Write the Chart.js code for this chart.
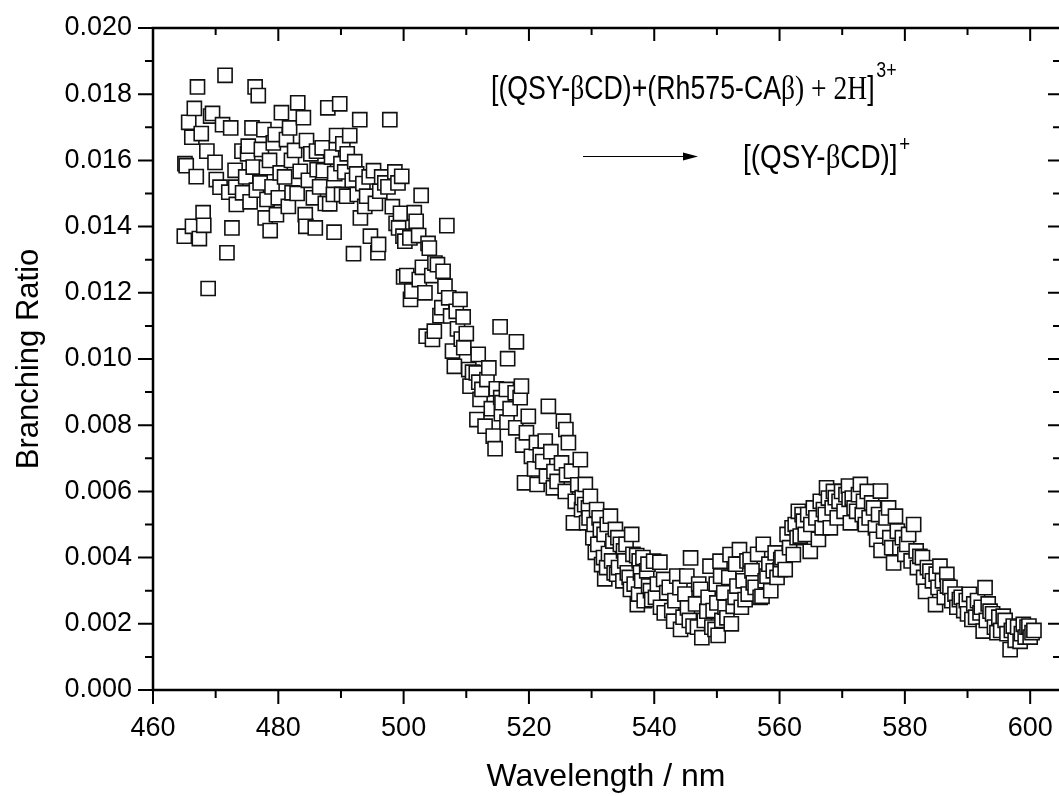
<!DOCTYPE html>
<html>
<head>
<meta charset="utf-8">
<script src="https://cdn.jsdelivr.net/npm/chart.js@4.4.1/dist/chart.umd.min.js"></script>
<style>
  html, body { margin: 0; padding: 0; background: #fff; }
</style>
</head>
<body>
<canvas id="grafico" width="1059" height="796"></canvas>
<script>
// valores
const wavelength = [
  465.0, 465.1, 465.3, 465.7, 466.2, 466.3, 466.6, 466.9, 467.1, 467.4,
  467.7, 468.0, 468.1, 468.6, 468.8, 469.2, 469.5, 469.9, 470.1, 470.7,
  471.1, 471.5, 471.8, 472.1, 472.4, 472.6, 473.1, 473.2, 473.3, 474.2,
  474.3, 474.8, 475.1, 475.2, 475.5, 475.8, 476.0, 476.3, 476.5, 476.8,
  477.1, 477.3, 477.7, 477.9, 478.1, 478.2, 478.6, 478.7, 479.0, 479.2,
  479.5, 479.7, 480.0, 480.3, 480.5, 481.0, 481.3, 481.6, 481.8, 482.1,
  482.2, 482.6, 483.0, 483.1, 483.5, 484.0, 484.3, 484.4, 484.5, 484.8,
  485.2, 485.6, 485.9, 486.1, 486.2, 486.6, 487.0, 487.2, 487.5, 487.9,
  488.2, 488.5, 488.8, 488.9, 489.0, 489.3, 489.8, 490.0, 490.1, 490.3,
  490.6, 490.9, 491.0, 491.4, 491.8, 492.0, 492.2, 492.5, 492.6, 493.0,
  493.1, 493.5, 493.8, 494.1, 494.5, 494.7, 495.2, 495.5, 495.9, 496.0,
  496.2, 496.5, 497.0, 497.5, 497.8, 498.2, 498.6, 498.8, 499.1, 499.2,
  499.5, 499.7, 499.9,
  500.0, 500.2, 500.5, 501.0, 501.1, 501.3, 501.7, 502.0, 502.4, 502.5,
  502.8, 503.0, 503.4, 503.6, 503.9, 504.1, 504.5, 504.6, 504.9, 505.0,
  505.4, 505.8, 506.1, 506.3, 506.6, 506.9, 507.2, 507.5, 507.8, 508.1,
  508.4, 508.6, 509.0, 509.2, 509.5, 509.6, 510.0, 510.4, 510.6, 511.0,
  511.6, 511.7, 511.9, 512.0, 512.2, 512.5, 513.0, 513.3, 513.6, 514.0,
  514.3, 514.6, 514.8, 515.4, 515.5, 515.6, 515.7, 516.4, 516.5, 516.6,
  517.0, 517.8, 517.9, 518.0, 518.6, 518.8, 519.0, 519.3, 519.6, 519.9,
  520.4, 520.9, 521.2, 521.3, 521.8, 522.2, 522.6, 522.8, 523.1, 523.5,
  523.9, 524.0, 524.5, 525.2, 525.5, 525.8, 525.9, 526.0, 526.3, 526.8,
  527.1, 527.4, 527.8, 528.2, 528.4, 528.5, 528.9, 529.0, 529.2, 529.5,
  529.6, 529.8,
  530.2, 530.4, 530.6, 530.8, 531.0, 531.2, 531.4, 531.6, 531.9, 532.0,
  532.1, 532.4, 532.5, 532.7, 533.0, 533.2, 533.4, 533.6, 533.8, 534.0,
  534.2, 534.3, 534.6, 535.0, 535.1, 535.3, 535.5, 535.7, 536.0, 536.2,
  536.4, 536.6, 536.8, 537.2, 537.3, 537.5, 537.6, 537.8, 538.0, 538.2,
  538.4, 538.8, 539.0, 539.1, 539.4, 539.6, 539.9, 540.2, 540.5, 540.9,
  541.0, 541.5, 541.6, 542.0, 542.4, 542.8, 543.1, 543.3, 543.6, 544.1,
  544.2, 544.6, 544.9, 545.2, 545.3, 545.6, 545.8, 546.2, 546.6, 546.9,
  547.1, 547.4, 547.6, 548.0, 548.4, 548.6, 548.9, 549.2, 549.4, 549.7,
  549.9, 550.0, 550.2, 550.5, 550.6, 550.8, 551.1, 551.3, 551.6, 551.9,
  552.1, 552.3, 552.6, 552.9, 553.0, 553.2, 553.6, 553.9, 554.2, 554.5,
  554.8, 555.0, 555.3, 555.6, 555.8, 556.1, 556.5, 556.9, 557.2, 557.4,
  557.7, 558.0, 558.3, 558.6, 559.0, 559.3, 559.6, 560.1, 560.2, 560.4,
  560.9, 561.2, 561.6, 562.0, 562.2, 562.5, 562.8, 563.0, 563.3, 563.6,
  563.8, 564.1, 564.5, 564.9, 565.0, 565.4, 565.8, 566.2, 566.5, 566.8,
  567.0, 567.3, 567.5, 567.8, 568.1, 568.4, 568.6, 568.9, 569.2, 569.5,
  569.9, 570.3, 570.6, 571.0, 571.1, 571.3, 571.6, 571.9, 572.3, 572.6,
  572.9, 573.2, 573.4, 573.7, 574.0, 574.3, 574.7, 575.0, 575.3, 575.5,
  575.8, 576.1, 576.2, 576.6, 577.0, 577.4, 577.6, 577.9, 578.2, 578.5,
  578.8, 579.2, 579.6, 580.0, 580.3, 580.6, 581.0, 581.4, 581.8, 582.0,
  582.4, 582.8, 583.0, 583.3, 583.6, 584.0, 584.4, 584.9, 585.0, 585.3,
  585.6, 586.0, 586.3, 586.7, 586.8, 587.2, 587.5, 588.0, 588.3, 588.7,
  589.0, 589.4, 589.8, 590.0, 590.3, 590.7, 591.0, 591.3, 591.6, 592.0,
  592.2, 592.5, 592.8, 593.0, 593.3, 593.6, 594.0, 594.3, 594.7, 595.0,
  595.3, 595.7, 596.0, 596.3, 596.8, 597.0, 597.3, 597.6, 598.0, 598.4,
  598.6, 598.9, 599.2, 599.5, 599.8, 600.0, 600.3, 600.6
];

const branchingRatio = [
  0.01371, 0.01590, 0.01584, 0.01715, 0.01670, 0.01401, 0.01757, 0.01551, 0.01822, 0.01364,
  0.01681, 0.01442, 0.01404, 0.01628, 0.01213, 0.01734, 0.01742, 0.01594, 0.01542, 0.01519,
  0.01708, 0.01857, 0.01321, 0.01504, 0.01698, 0.01396, 0.01570, 0.01519, 0.01467, 0.01628,
  0.01502, 0.01550, 0.01620, 0.01643, 0.01475, 0.01698, 0.01580, 0.01822, 0.01510, 0.01796,
  0.01532, 0.01633, 0.01693, 0.01426, 0.01578, 0.01482, 0.01600, 0.01388, 0.01520, 0.01653,
  0.01678, 0.01436, 0.01487, 0.01562, 0.01744, 0.01550, 0.01663, 0.01461, 0.01698, 0.01600,
  0.01502, 0.01630, 0.01500, 0.01774, 0.01567, 0.01729, 0.01436, 0.01401, 0.01660, 0.01540,
  0.01620, 0.01487, 0.01396, 0.01628, 0.01572, 0.01520, 0.01638, 0.01569, 0.01470, 0.01759,
  0.01469, 0.01610, 0.01497, 0.01383, 0.01560, 0.01675, 0.01771, 0.01590, 0.01497, 0.01650,
  0.01565, 0.01492, 0.01620, 0.01675, 0.01540, 0.01318, 0.01596, 0.01559, 0.01497, 0.01723,
  0.01426, 0.01530, 0.01461, 0.01492, 0.01550, 0.01371, 0.01569, 0.01470, 0.01321, 0.01346,
  0.01507, 0.01550, 0.01532, 0.01520, 0.01723, 0.01460, 0.01565, 0.01410, 0.01532, 0.01396,
  0.01440, 0.01552, 0.01371,
  0.01248, 0.01356, 0.01252, 0.01366, 0.01180, 0.01205, 0.01442, 0.01416, 0.01373, 0.01240,
  0.01494, 0.01277, 0.01200, 0.01069, 0.01349, 0.01335, 0.01252, 0.01059, 0.01084, 0.01290,
  0.01285, 0.01131, 0.01155, 0.01265, 0.01220, 0.01403, 0.01185, 0.01130, 0.01024, 0.00978,
  0.01144, 0.01091, 0.01180, 0.01060, 0.01127, 0.01034, 0.01077, 0.00968, 0.00918, 0.00960,
  0.00958, 0.00817, 0.01014, 0.00930, 0.00878, 0.00908, 0.00797, 0.00938, 0.00973, 0.00850,
  0.00767, 0.00729, 0.00910, 0.01097, 0.00883, 0.00835, 0.00868, 0.00908, 0.00809, 0.01001,
  0.00850, 0.00898, 0.00792, 0.01052, 0.00883, 0.00918, 0.00740, 0.00626, 0.00777, 0.00827,
  0.00706, 0.00668, 0.00747, 0.00621, 0.00710, 0.00690, 0.00752, 0.00646, 0.00857, 0.00720,
  0.00611, 0.00660, 0.00630, 0.00686, 0.00812, 0.00600, 0.00787, 0.00650, 0.00747, 0.00661,
  0.00505, 0.00570, 0.00620, 0.00696, 0.00545, 0.00581, 0.00560, 0.00621, 0.00505, 0.00550,
  0.00520, 0.00585,
  0.00460, 0.00500, 0.00416, 0.00545, 0.00440, 0.00520, 0.00485, 0.00379, 0.00400, 0.00470,
  0.00336, 0.00370, 0.00500, 0.00412, 0.00525, 0.00390, 0.00450, 0.00354, 0.00485, 0.00350,
  0.00460, 0.00370, 0.00440, 0.00330, 0.00420, 0.00390, 0.00440, 0.00354, 0.00340, 0.00304,
  0.00470, 0.00410, 0.00320, 0.00406, 0.00258, 0.00290, 0.00390, 0.00354, 0.00330, 0.00400,
  0.00270, 0.00360, 0.00380, 0.00314, 0.00300, 0.00273, 0.00389, 0.00280, 0.00320, 0.00386,
  0.00250, 0.00334, 0.00233, 0.00294, 0.00310, 0.00240, 0.00208, 0.00270, 0.00344, 0.00309,
  0.00183, 0.00220, 0.00290, 0.00344, 0.00248, 0.00210, 0.00399, 0.00193, 0.00260, 0.00190,
  0.00320, 0.00304, 0.00158, 0.00210, 0.00238, 0.00280, 0.00374, 0.00190, 0.00240, 0.00183,
  0.00320, 0.00263, 0.00165, 0.00389, 0.00344, 0.00210, 0.00294, 0.00250, 0.00218, 0.00340,
  0.00409, 0.00200, 0.00253, 0.00280, 0.00380, 0.00314, 0.00424, 0.00250, 0.00330, 0.00273,
  0.00390, 0.00290, 0.00394, 0.00360, 0.00324, 0.00310, 0.00410, 0.00280, 0.00283, 0.00440,
  0.00330, 0.00344, 0.00380, 0.00300, 0.00360, 0.00414, 0.00340, 0.00364, 0.00394, 0.00400,
  0.00364, 0.00470, 0.00430, 0.00490, 0.00409, 0.00500, 0.00460, 0.00540, 0.00465, 0.00530,
  0.00510, 0.00470, 0.00530, 0.00419, 0.00500, 0.00550, 0.00520, 0.00455, 0.00570, 0.00490,
  0.00545, 0.00530, 0.00611, 0.00580, 0.00490, 0.00550, 0.00600, 0.00581, 0.00520, 0.00570,
  0.00600, 0.00540, 0.00590, 0.00616, 0.00576, 0.00505, 0.00580, 0.00550, 0.00540, 0.00590,
  0.00621, 0.00530, 0.00570, 0.00500, 0.00600, 0.00520, 0.00565, 0.00550, 0.00490, 0.00455,
  0.00530, 0.00601, 0.00422, 0.00480, 0.00520, 0.00550, 0.00460, 0.00430, 0.00384, 0.00525,
  0.00480, 0.00430, 0.00460, 0.00410, 0.00440, 0.00470, 0.00390, 0.00500, 0.00420, 0.00370,
  0.00404, 0.00400, 0.00340, 0.00298, 0.00370, 0.00359, 0.00330, 0.00258, 0.00350, 0.00310,
  0.00374, 0.00330, 0.00280, 0.00349, 0.00314, 0.00310, 0.00270, 0.00290, 0.00250, 0.00273,
  0.00280, 0.00240, 0.00270, 0.00230, 0.00289, 0.00213, 0.00260, 0.00220, 0.00270, 0.00233,
  0.00250, 0.00178, 0.00309, 0.00210, 0.00260, 0.00238, 0.00230, 0.00190, 0.00173, 0.00220,
  0.00180, 0.00223, 0.00210, 0.00170, 0.00122, 0.00180, 0.00193, 0.00150, 0.00190, 0.00147,
  0.00170, 0.00198, 0.00160, 0.00190, 0.00193, 0.00160, 0.00173, 0.00180
];

const xTicksMajor = [460, 480, 500, 520, 540, 560, 580, 600];
const xTicksMinor = [470, 490, 510, 530, 550, 570, 590];
const yTicksMajor = [0, 0.002, 0.004, 0.006, 0.008, 0.010, 0.012, 0.014, 0.016, 0.018, 0.020];
const yTicksMinor = [0.001, 0.003, 0.005, 0.007, 0.009, 0.011, 0.013, 0.015, 0.017, 0.019];

if (wavelength.length !== branchingRatio.length) {
    console.error('tamanhos diferentes', wavelength.length, branchingRatio.length);
}

const pontos = wavelength.map(function (x, i) {
    return { x: x, y: branchingRatio[i] };
});

const SANS = "'Liberation Sans', Arial, sans-serif";
const SERIF = "'Liberation Serif', 'Times New Roman', serif";

Chart.defaults.font.family = SANS;
Chart.defaults.color = '#000';

// moldura com ticks (fora em baixo/esquerda, dentro em cima/direita)
const molduraPlugin = {
    id: 'moldura',
    afterDatasetsDraw(chart) {
        const { ctx, chartArea: a, scales: { x, y } } = chart;
        ctx.save();
        ctx.strokeStyle = '#000';
        ctx.lineWidth = 2.5;
        ctx.beginPath();
        ctx.moveTo(a.right, a.top);
        ctx.lineTo(a.left, a.top);
        ctx.lineTo(a.left, a.bottom);
        ctx.lineTo(a.right, a.bottom);
        ctx.stroke();

        ctx.lineWidth = 2;
        ctx.beginPath();
        xTicksMajor.forEach(function (v) {
            const px = x.getPixelForValue(v);
            ctx.moveTo(px, a.bottom); ctx.lineTo(px, a.bottom + 14);
            ctx.moveTo(px, a.top); ctx.lineTo(px, a.top + 13);
        });
        xTicksMinor.forEach(function (v) {
            const px = x.getPixelForValue(v);
            ctx.moveTo(px, a.bottom); ctx.lineTo(px, a.bottom + 8);
            ctx.moveTo(px, a.top); ctx.lineTo(px, a.top + 7);
        });
        yTicksMajor.forEach(function (v) {
            const py = y.getPixelForValue(v);
            ctx.moveTo(a.left, py); ctx.lineTo(a.left - 15, py);
            ctx.moveTo(a.right, py); ctx.lineTo(a.right - 11, py);
        });
        yTicksMinor.forEach(function (v) {
            const py = y.getPixelForValue(v);
            ctx.moveTo(a.left, py); ctx.lineTo(a.left - 8, py);
            ctx.moveTo(a.right, py); ctx.lineTo(a.right - 6, py);
        });
        ctx.stroke();
        ctx.restore();
    }
};

function desenharTexto(ctx, partes, x0, base, escala) {
    ctx.save();
    ctx.translate(x0, base);
    ctx.scale(escala, 1);
    let cx = 0;
    partes.forEach(function (p) {
        ctx.font = p.font;
        ctx.fillText(p.t, cx, p.dy || 0);
        cx += ctx.measureText(p.t).width + (p.gap || 0);
    });
    ctx.restore();
}

// texto da reação e seta
const reacaoPlugin = {
    id: 'reacao',
    afterDraw(chart) {
        const { ctx, chartArea: a } = chart;
        ctx.save();
        ctx.fillStyle = '#000';
        ctx.textBaseline = 'alphabetic';
        const f = '33px ' + SANS;
        const fs = '34px ' + SERIF;
        const sup = '22px ' + SANS;
        desenharTexto(ctx, [
            { t: '[(QSY-', font: f },
            { t: 'β', font: fs },
            { t: 'CD)+(Rh575-CA', font: f },
            { t: 'β) + 2H', font: fs },
            { t: ']', font: f, gap: 2 },
            { t: '3+', font: sup, dy: -22 }
        ], a.left + 338, a.top + 71, 0.81);

        desenharTexto(ctx, [
            { t: '[(QSY-', font: f },
            { t: 'β', font: fs },
            { t: 'CD)]', font: f, gap: 2 },
            { t: '+', font: sup, dy: -17 }
        ], a.left + 590, a.top + 140, 0.845);

        // seta
        const y0 = a.top + 128.5;
        ctx.strokeStyle = '#000';
        ctx.lineWidth = 1.2;
        ctx.beginPath();
        ctx.moveTo(a.left + 430, y0);
        ctx.lineTo(a.left + 532, y0);
        ctx.stroke();
        ctx.beginPath();
        ctx.moveTo(a.left + 545, y0);
        ctx.lineTo(a.left + 530, y0 - 4);
        ctx.lineTo(a.left + 530, y0 + 4);
        ctx.closePath();
        ctx.fill();
        ctx.restore();
    }
};

const config = {
    type: 'scatter',
    data: {
        datasets: [{
            label: 'Branching Ratio',
            data: pontos,
            pointStyle: 'rect',
            pointRadius: 10,
            pointHoverRadius: 10,
            borderWidth: 1.6,
            borderColor: '#111',
            backgroundColor: '#fff'
        }]
    },
    options: {
        responsive: false,
        animation: false,
        devicePixelRatio: 1,
        layout: {
            autoPadding: false,
            padding: { top: 28, right: 0, bottom: 0, left: 0 }
        },
        plugins: {
            legend: { display: false },
            tooltip: { enabled: false }
        },
        scales: {
            x: {
                type: 'linear',
                position: 'bottom',
                min: 460,
                max: 604.6,
                afterBuildTicks: function (scale) {
                    scale.ticks = xTicksMajor.map(function (v) { return { value: v }; });
                },
                afterFit: function (scale) {
                    scale.height = 106;
                    scale.paddingLeft = 0;
                    scale.paddingRight = 0;
                },
                grid: { display: false },
                border: { display: false },
                ticks: {
                    includeBounds: false,
                    maxRotation: 0,
                    autoSkip: false,
                    padding: 14,
                    color: '#000',
                    font: { size: 27 },
                    callback: function (v) { return String(v); }
                },
                title: {
                    display: true,
                    text: 'Wavelength / nm',
                    color: '#000',
                    font: { size: 32 },
                    padding: { top: 0, bottom: 0 }
                }
            },
            y: {
                type: 'linear',
                min: 0,
                max: 0.02,
                afterBuildTicks: function (scale) {
                    scale.ticks = yTicksMajor.map(function (v) { return { value: v }; });
                },
                afterFit: function (scale) {
                    scale.width = 153;
                    scale.paddingTop = 0;
                    scale.paddingBottom = 0;
                },
                grid: { display: false },
                border: { display: false },
                ticks: {
                    includeBounds: false,
                    autoSkip: false,
                    padding: 13,
                    color: '#000',
                    font: { size: 27 },
                    callback: function (v) { return v.toFixed(3); }
                },
                title: {
                    display: true,
                    text: 'Branching Ratio',
                    color: '#000',
                    font: { size: 31 },
                    padding: { top: 11, bottom: 0 }
                }
            }
        }
    },
    plugins: [molduraPlugin, reacaoPlugin]
};

let grafico = new Chart(document.getElementById('grafico'), config);
</script>
</body>
</html>
